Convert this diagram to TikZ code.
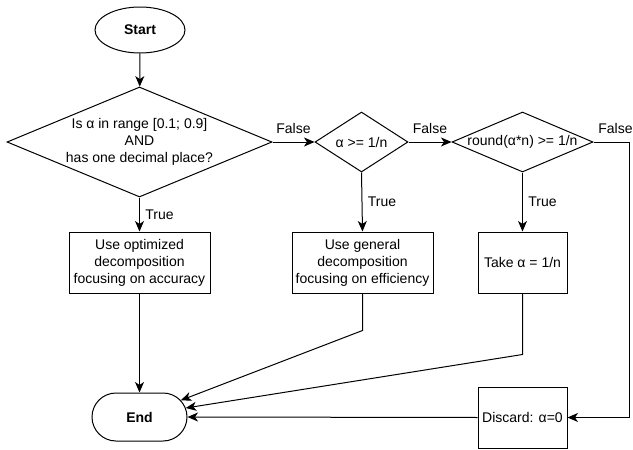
\documentclass[tikz,border=0pt]{standalone}
\usepackage{fontspec}
\setmainfont{Liberation Sans}
\newcommand\dgfont{\fontsize{14pt}{17pt}\selectfont}
\usetikzlibrary{shapes.geometric,shapes.misc,arrows.meta}
\begin{document}
\begin{tikzpicture}[x=1pt,y=-1pt,
  every node/.style={font=\dgfont},
  every label/.style={font=\dgfont, align=center},
  base/.style={draw, line width=1pt, inner sep=0pt, align=center},
  dec/.style={base, diamond, shape aspect=2},
  proc/.style={base, rectangle, minimum width=141pt, minimum height=61pt},
  conn/.style={draw, line width=1pt, -{Stealth[length=10.5pt,width=9pt,inset=3pt]}},
  flab/.style={above=5pt, inner sep=3.33pt},
  tlab/.style={right, xshift=2pt}]
\useasboundingbox (0,0) rectangle (633,450);
\node[base, ellipse, minimum width=90pt, minimum height=46pt] (start) at (140,30) {\textbf{Start}};
\node[dec, minimum width=265pt, minimum height=110pt,
  label={center:Is α in range [0.1; 0.9]\\AND\\has one decimal place?}] (d1) at (139.5,142) {};
\node[dec, minimum width=93pt, minimum height=60pt,
  label={center:α >= 1/n}] (d2) at (361.5,142) {};
\node[dec, minimum width=141pt, minimum height=60pt,
  label={center:round(α*n) >= 1/n}] (d3) at (522.5,142) {};
\node[proc] (b1) at (139.5,262.5) {Use optimized\\decomposition\\focusing on accuracy};
\node[proc] (b2) at (362.5,262.5) {Use general\\decomposition\\focusing on efficiency};
\node[proc, minimum width=89pt] (b3) at (522.5,262.5) {Take α = 1/n};
\node[base, rounded rectangle, minimum width=95pt, minimum height=48pt] (end) at (139.5,417) {\textbf{End}};
\node[proc, minimum width=89pt] (disc) at (522.5,417.5) {Discard: α=0};
\path[conn] (start) -- (d1);
\path[conn] (d1.east) -- node[flab]{False} (d2.west);
\path[conn] (d2.east) -- node[flab]{False} (d3.west);
\path[conn] (d3.east) -- node[flab, xshift=4pt]{False} ++(36,0) |- (disc.east);
\path[conn] (d1.south) -- node[tlab]{True} (b1.north);
\path[conn] (d2.south) -- node[tlab]{True} (b2.north);
\path[conn] (d3.south) -- node[tlab]{True} (b3.north);
\path[conn] (b1.south) -- (end.north);
\path[conn] (b2.south) -- ++(0,37) -- (end.22);
\path[conn] (b3.south) -- ++(0,61) -- (end.11);
\path[conn] (disc.west) -- (end.east);
\end{tikzpicture}
\end{document}
